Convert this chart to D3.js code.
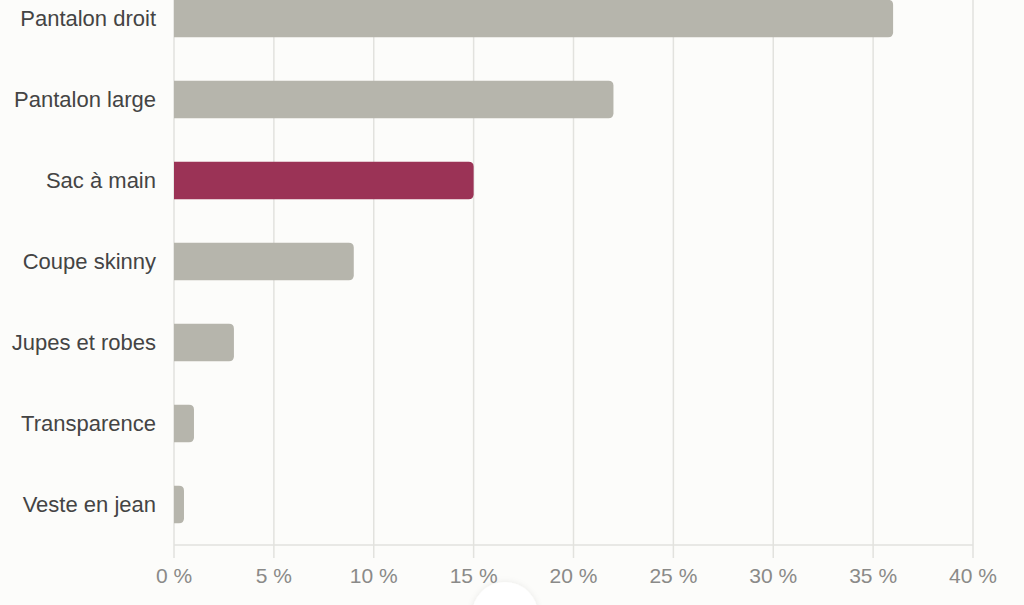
<!DOCTYPE html>
<html>
<head>
<meta charset="utf-8">
<script src="https://cdn.jsdelivr.net/npm/d3@7/dist/d3.min.js"></script>
<style>
  html, body { margin: 0; padding: 0; background: #fcfcfa; overflow: hidden; }
  svg { display: block; font-family: "Liberation Sans", Arial, sans-serif; }
</style>
</head>
<body>
<div id="chart"></div>
<script>
// Chart data
const categories = ['Pantalon droit', 'Pantalon large', 'Sac à main', 'Coupe skinny', 'Jupes et robes', 'Transparence', 'Veste en jean'];
const values = [36, 22, 15, 9, 3, 1, 0.5];
const highlighted = ['Sac à main'];
const xTicks = [0, 5, 10, 15, 20, 25, 30, 35, 40];

const width = 1024, height = 605;
const margin = { left: 174, right: 51, top: -22, bottom: 60 };

const svg = d3.select('#chart').append('svg')
    .attr('width', width)
    .attr('height', height);

svg.append('rect')
    .attr('width', width).attr('height', height)
    .attr('fill', '#fcfcfa');

const x = d3.scaleLinear()
    .domain([0, 40])
    .range([margin.left, width - margin.right]);

const y = d3.scaleBand()
    .domain(categories)
    .range([margin.top, height - margin.bottom])
    .paddingInner(0.54)
    .paddingOuter(0.27);

// grid lines
svg.append('g')
    .selectAll('line')
    .data(xTicks)
    .join('line')
    .attr('x1', d => x(d)).attr('x2', d => x(d))
    .attr('y1', 0).attr('y2', height - margin.bottom + 13)
    .attr('stroke', '#e2e2de')
    .attr('stroke-width', 1.5);

// axis baseline
svg.append('line')
    .attr('x1', x(0)).attr('x2', x(40))
    .attr('y1', height - margin.bottom).attr('y2', height - margin.bottom)
    .attr('stroke', '#e2e2de')
    .attr('stroke-width', 1.5);

// bars, rounded on the right end only
const r = 5;
svg.append('g')
    .selectAll('path')
    .data(categories)
    .join('path')
    .attr('d', (d, i) => {
        const x0 = x(0), x1 = x(values[i]);
        const y0 = y(d), h = y.bandwidth();
        const rr = Math.min(r, (x1 - x0), h / 2);
        return `M${x0},${y0} H${x1 - rr} Q${x1},${y0} ${x1},${y0 + rr} V${y0 + h - rr} Q${x1},${y0 + h} ${x1 - rr},${y0 + h} H${x0} Z`;
    })
    .attr('fill', d => highlighted.includes(d) ? '#9b3356' : '#b6b5ac');

// category labels
svg.append('g')
    .selectAll('text')
    .data(categories)
    .join('text')
    .attr('x', x(0) - 18)
    .attr('y', d => y(d) + y.bandwidth() / 2)
    .attr('dy', '0.35em')
    .attr('text-anchor', 'end')
    .attr('fill', '#444')
    .attr('font-size', '22px')
    .text(d => d);

// tick labels
svg.append('g')
    .selectAll('text')
    .data(xTicks)
    .join('text')
    .attr('x', d => x(d))
    .attr('y', height - margin.bottom + 31)
    .attr('dy', '0.35em')
    .attr('text-anchor', 'middle')
    .attr('fill', '#8a8a88')
    .attr('font-size', '21px')
    .text(d => d + ' %');

// partial round button at bottom edge
const defs = svg.append('defs');
const f = defs.append('filter').attr('id', 'sh').attr('x', '-50%').attr('y', '-50%').attr('width', '200%').attr('height', '200%');
f.append('feDropShadow').attr('dx', 0).attr('dy', 0).attr('stdDeviation', 3).attr('flood-color', '#000').attr('flood-opacity', 0.08);
svg.append('circle')
    .attr('cx', 505).attr('cy', 615).attr('r', 33)
    .attr('fill', '#ffffff')
    .attr('filter', 'url(#sh)');
</script>
</body>
</html>
